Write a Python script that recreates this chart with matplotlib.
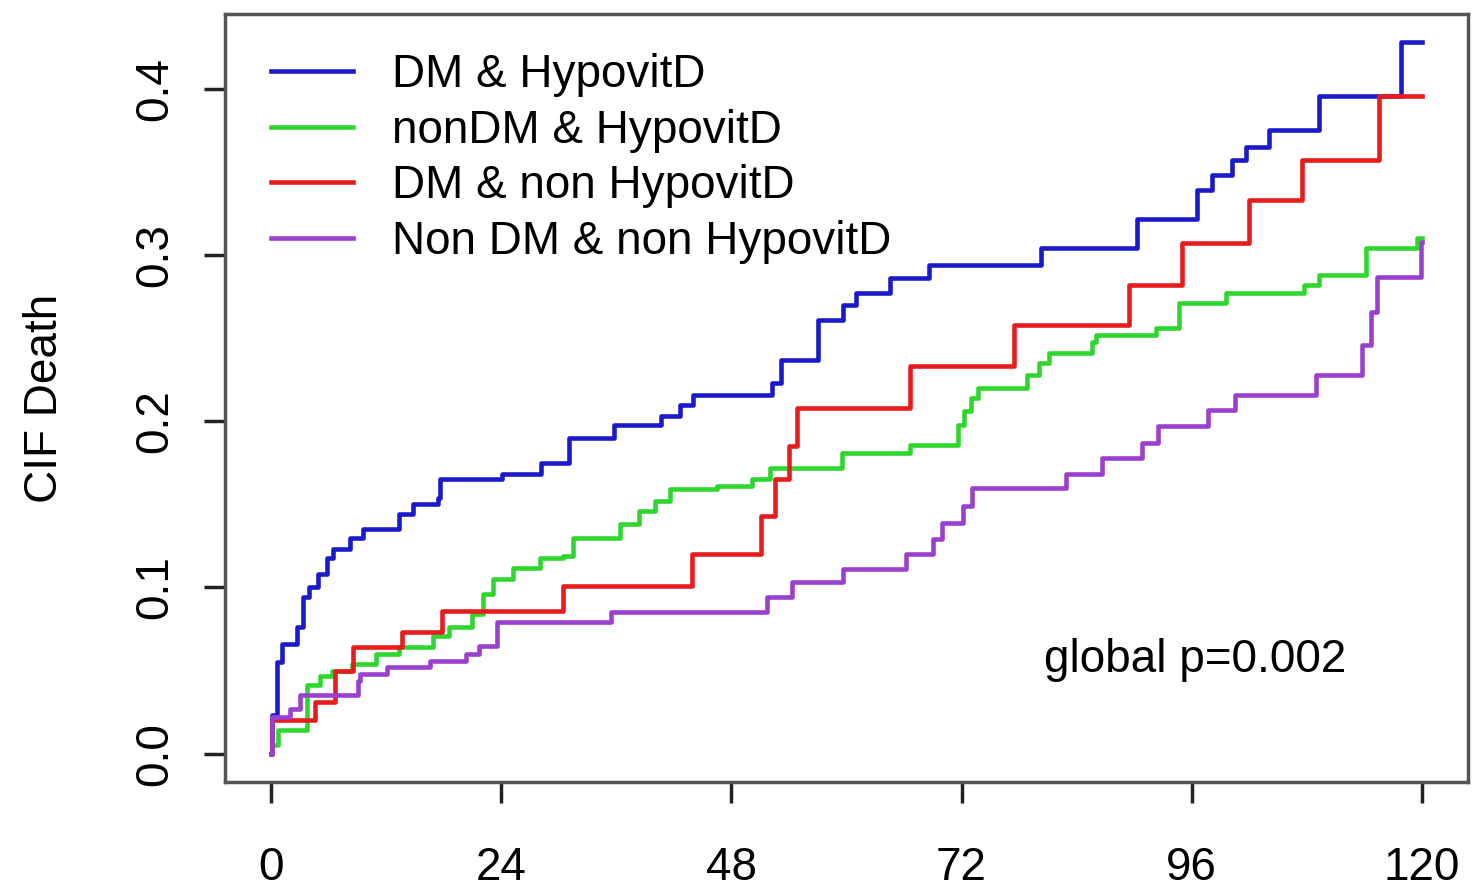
import matplotlib
matplotlib.use("Agg")
import matplotlib.pyplot as plt

plt.rcParams['font.family'] = ['Liberation Sans', 'DejaVu Sans']

# step points: time in months, cumulative incidence of death
dm_hypo_t = [0, 0.1, 0.6, 1.1, 2.7, 3.3, 4.0, 4.9, 5.8, 6.5, 8.2, 9.6, 13.4, 14.8, 17.4, 17.6,
             24.1, 28.2, 31.1, 35.8, 40.7, 42.6, 44.0, 52.2, 53.2, 57.0, 59.6, 61.0, 64.5, 68.6,
             80.3, 90.3, 96.5, 98.1, 100.2, 101.7, 104.1, 109.3, 117.8, 120]
dm_hypo_y = [0, 0.023, 0.055, 0.066, 0.076, 0.094, 0.100, 0.108, 0.118, 0.123, 0.130, 0.135, 0.144,
             0.150, 0.154, 0.165, 0.168, 0.175, 0.190, 0.198, 0.203, 0.210, 0.216, 0.223, 0.237,
             0.261, 0.270, 0.277, 0.286, 0.294, 0.304, 0.322, 0.339, 0.348, 0.357, 0.365, 0.375,
             0.396, 0.428, 0.428]

nondm_hypo_t = [0, 0.1, 0.7, 3.8, 5.1, 6.4, 8.5, 11.0, 13.4, 16.9, 18.6, 21.0, 22.1, 23.1, 25.2,
                28.0, 30.4, 31.5, 36.4, 38.4, 40.0, 41.6, 46.5, 50.2, 52.0, 59.5, 66.6, 71.6,
                72.3, 73.0, 73.7, 78.8, 80.1, 81.1, 85.6, 86.0, 92.3, 94.7, 99.6, 107.7, 109.3,
                114.2, 119.5, 120]
nondm_hypo_y = [0, 0.005, 0.014, 0.041, 0.047, 0.050, 0.054, 0.060, 0.064, 0.071, 0.076, 0.084,
                0.096, 0.105, 0.112, 0.118, 0.119, 0.130, 0.138, 0.146, 0.152, 0.159, 0.161, 0.165,
                0.172, 0.181, 0.186, 0.198, 0.206, 0.214, 0.220, 0.228, 0.235, 0.241, 0.248, 0.252,
                0.256, 0.271, 0.277, 0.282, 0.288, 0.304, 0.310, 0.310]

dm_nonhypo_t = [0, 0.1, 4.6, 6.7, 8.6, 13.7, 17.8, 30.4, 43.9, 51.1, 52.5, 54.0, 54.8, 66.6, 77.5,
                89.5, 95.0, 102.0, 107.5, 115.5, 120]
dm_nonhypo_y = [0, 0.020, 0.031, 0.050, 0.064, 0.073, 0.086, 0.101, 0.120, 0.143, 0.165, 0.185,
                0.208, 0.233, 0.258, 0.282, 0.307, 0.333, 0.357, 0.396, 0.396]

nondm_nonhypo_t = [0, 0.1, 2.0, 3.0, 9.1, 9.3, 12.1, 16.6, 20.3, 21.7, 23.6, 35.5, 51.7, 54.3,
                   59.6, 66.2, 69.0, 70.0, 72.1, 73.1, 82.9, 86.6, 90.8, 92.5, 97.7, 100.5, 109.0,
                   113.7, 114.7, 115.3, 119.9, 120]
nondm_nonhypo_y = [0, 0.022, 0.027, 0.035, 0.044, 0.048, 0.052, 0.056, 0.060, 0.065, 0.079, 0.085,
                   0.094, 0.103, 0.111, 0.120, 0.129, 0.139, 0.149, 0.160, 0.168, 0.178, 0.187,
                   0.197, 0.207, 0.216, 0.228, 0.246, 0.266, 0.287, 0.308, 0.308]

labels = ['DM & HypovitD', 'nonDM & HypovitD', 'DM & non HypovitD', 'Non DM & non HypovitD']
colors = ['#1a1acc', '#2ed62e', '#e81c1c', '#9a3fd0']
x_ticks = [0, 24, 48, 72, 96, 120]
y_ticks = [0.0, 0.1, 0.2, 0.3, 0.4]

fig = plt.figure(figsize=(14.73, 8.91), dpi=100)
ax = fig.add_axes([0.1527, 0.1223, 0.8439, 0.862])

series = [(dm_hypo_t, dm_hypo_y), (nondm_hypo_t, nondm_hypo_y),
          (dm_nonhypo_t, dm_nonhypo_y), (nondm_nonhypo_t, nondm_nonhypo_y)]
for (t, y), lab, c in zip(series, labels, colors):
    ax.step(t, y, where='post', color=c, lw=3.3, label=lab)

ax.set_xlim(-4.8, 124.8)
ax.set_ylim(-0.0171, 0.4451)
ax.set_xticks(x_ticks)
ax.set_xticklabels([str(v) for v in x_ticks])
ax.set_yticks(y_ticks)
ax.set_yticklabels(['%.1f' % v for v in y_ticks], rotation=90, va='center')
ax.tick_params(axis='both', labelsize=33, length=15, width=2.5, color='#222222')
ax.tick_params(axis='x', pad=31)
ax.tick_params(axis='y', pad=19)
for s in ax.spines.values():
    s.set_linewidth(2.5)
    s.set_color('#555555')

ax.set_ylabel('CIF Death', fontsize=33, labelpad=48)

ax.legend(loc='upper left', bbox_to_anchor=(0.0, 1.009), frameon=False, fontsize=33,
          handlelength=1.8, handletextpad=0.85, labelspacing=0.255, borderaxespad=0.6)

ax.text(80.6, 0.0565, 'global p=0.002', fontsize=33, va='center', ha='left')

fig.savefig('out.png', dpi=100)
